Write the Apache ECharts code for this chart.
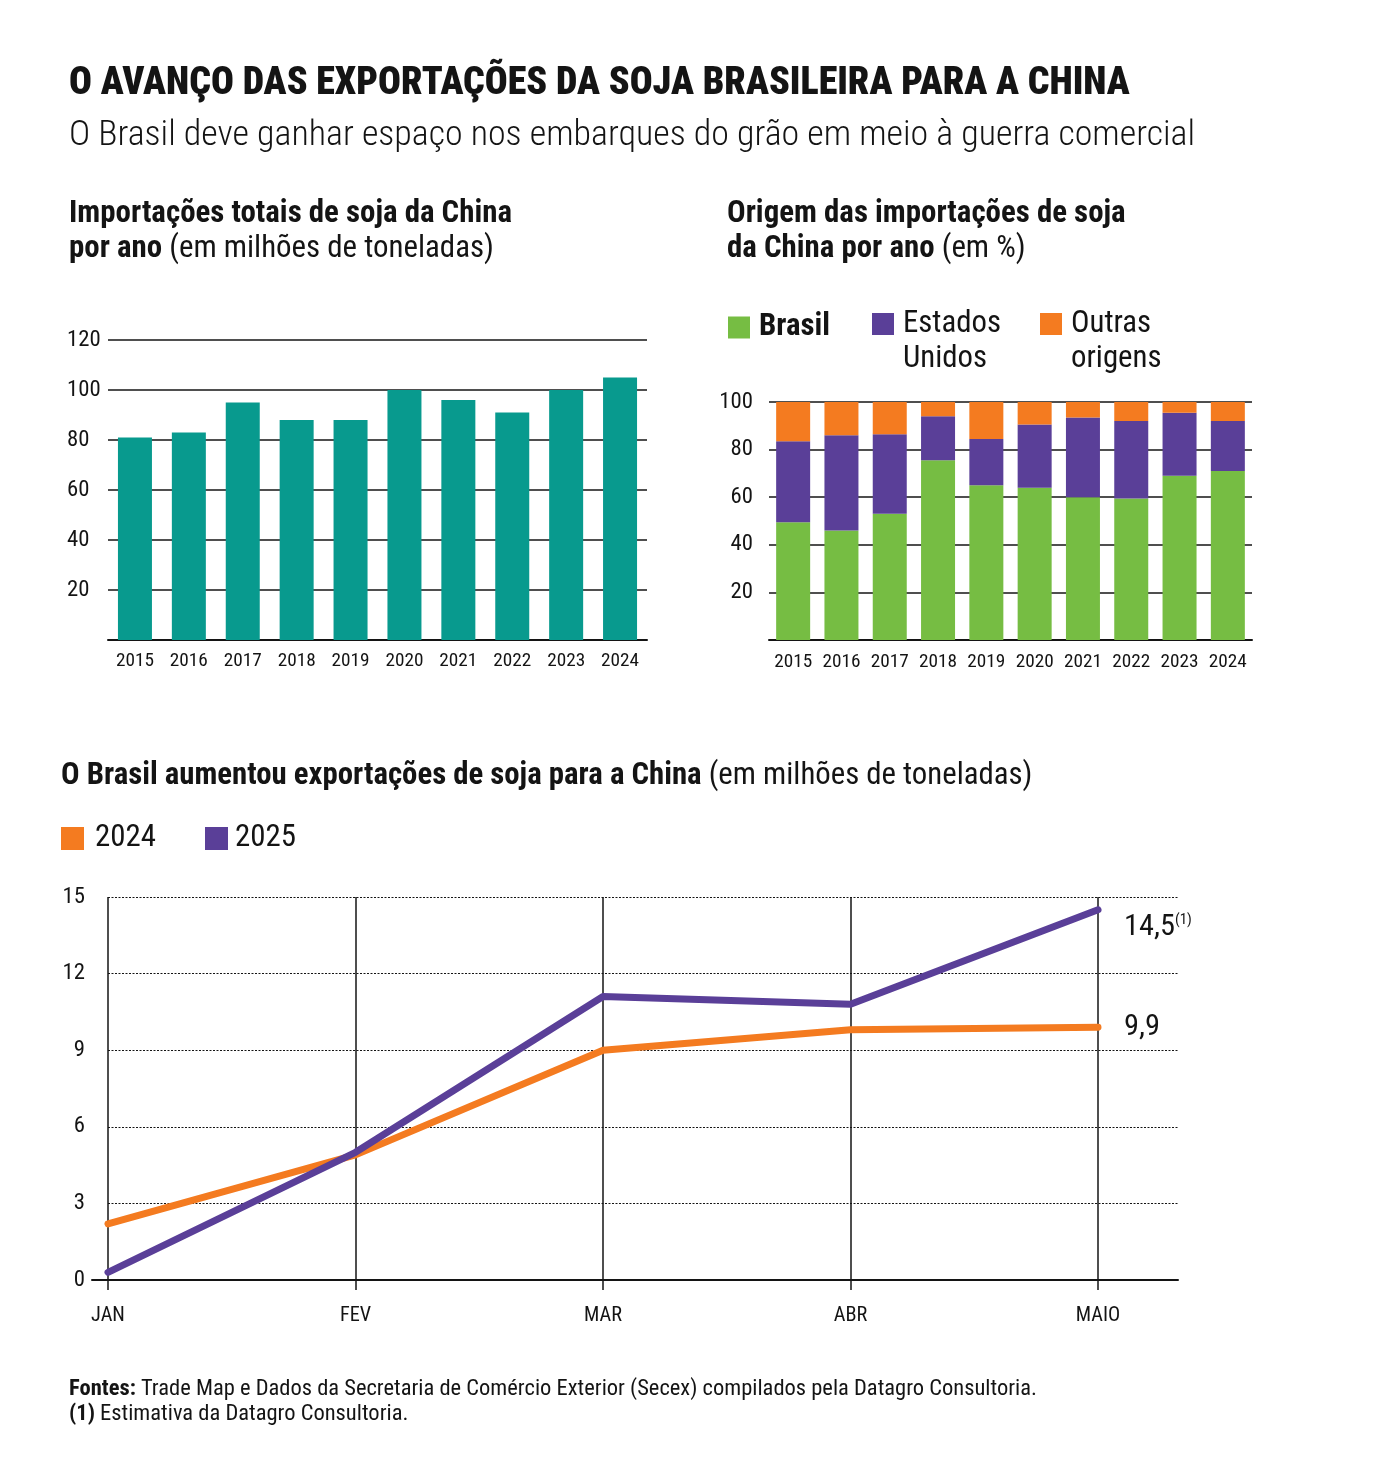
<!DOCTYPE html>
<html lang="pt-BR">
<head>
<meta charset="utf-8">
<title>O avanço das exportações da soja brasileira para a China</title>
<script src="https://cdn.jsdelivr.net/npm/echarts@6.0.0/dist/echarts.min.js"></script>
<style>
html,body{margin:0;padding:0;background:#ffffff;}
#chart{width:1380px;height:1478px;}
</style>
</head>
<body>
<div id="chart"></div>
<script>
// ---------------- DATA ----------------
const years = ['2015','2016','2017','2018','2019','2020','2021','2022','2023','2024'];
const chinaImports = [81, 83, 95, 88, 88, 100, 96, 91, 100, 105];          // milhões de t
const shareBrasil  = [49.5, 46, 53, 75.5, 65, 64, 60, 59.5, 69, 71];        // %
const shareEUA     = [34, 40, 33.5, 18.5, 19.5, 26.5, 33.5, 32.5, 26.5, 21]; // %
const shareOutras  = [16.5, 14, 13.5, 6, 15.5, 9.5, 6.5, 8, 4.5, 8];        // %
const months = ['JAN','FEV','MAR','ABR','MAIO'];
const exports2024 = [2.2, 4.9, 9.0, 9.8, 9.9];
const exports2025 = [0.3, 5.0, 11.1, 10.8, 14.5];
const importsAxis = [0, 120, 20];   // min, max, step
const sharesAxis  = [0, 100, 20];
const exportsAxis = [0, 15, 3];

// ---------------- TEXTS ----------------
const TITLE = 'O AVANÇO DAS EXPORTAÇÕES DA SOJA BRASILEIRA PARA A CHINA';
const SUBTITLE = 'O Brasil deve ganhar espaço nos embarques do grão em meio à guerra comercial';
const P1_L1 = 'Importações totais de soja da China';
const P1_L2B = 'por ano', P1_L2R = ' (em milhões de toneladas)';
const P2_L1 = 'Origem das importações de soja';
const P2_L2B = 'da China por ano', P2_L2R = ' (em %)';
const P3_B = 'O Brasil aumentou exportações de soja para a China', P3_R = ' (em milhões de toneladas)';
const F1_B = 'Fontes:', F1_R = ' Trade Map e Dados da Secretaria de Comércio Exterior (Secex) compilados pela Datagro Consultoria.';
const F2_B = '(1)', F2_R = ' Estimativa da Datagro Consultoria.';

// ---------------- FONT FITTING ----------------
const ctx = document.createElement('canvas').getContext('2d');
function tw(text, weight, size, fam) { ctx.font = weight + ' ' + size + 'px ' + fam; return ctx.measureText(text).width; }
function hasFont(f) {
  const s = 'abcdefghijklmnopqrstuvwxyz ABCDEFGHIJKLM 0123456789';
  return tw(s, 'normal', 40, "'" + f + "', monospace") !== tw(s, 'normal', 40, 'monospace') &&
         tw(s, 'normal', 40, "'" + f + "', serif") !== tw(s, 'normal', 40, 'serif');
}
const candidates = ['Roboto Condensed', 'Noto Sans Condensed', 'Liberation Sans Narrow', 'Arial Narrow'];
let found = null;
for (const c of candidates) { if (hasFont(c)) { found = c; break; } }
const FAM = found ? "'" + found + "', Roboto" : 'Roboto';
const HEAVY = '900';
const LIGHT = '300';
const BOOST = found ? 1.12 : 1.15;   // original tick face is narrower & taller
function fit(parts, target) {
  let t = 0; parts.forEach(p => { t += tw(p[0], p[1], 100, FAM); });
  return Math.round(100 * target / t * 10) / 10;
}
const sTitle = fit([[TITLE, HEAVY]], 1061);
const sSub = fit([[SUBTITLE, LIGHT]], 1126);
const sPanel = fit([[P1_L1, 'bold']], 443);
const sP3 = fit([[P3_B, 'bold'], [P3_R, 'normal']], 972);
const sFoot = fit([[F1_B, 'bold'], [F1_R, 'normal']], 968);
const sLeg2 = fit([['Estados', 'normal']], 98);
const sLeg3 = fit([['2024', 'normal']], 61);
const sAx = fit([['120', 'normal']], 30) * BOOST;
const sYear = fit([['2015', 'normal']], 34) * BOOST;
const sAx3 = fit([['12', 'normal']], 20) * BOOST;
const sMonth = fit([['MAIO', 'normal']], 37) * 1.2;
const sEnd = fit([['14,5', 'normal']], 51);

const INK = '#141414';
const TEAL = '#089A8E', GREEN = '#76BD43', PURPLE = '#5A3F98', ORANGE = '#F47B20';

function fmt(v) { return v.toFixed(1).replace('.', ','); }
function richText(x, y, text, rich) {
  return { type: 'text', x: x, y: y, style: { text: text, verticalAlign: 'middle', align: 'left', fill: INK, rich: rich } };
}
function rs(size, weight) { return { fontSize: size, fontWeight: weight, fontFamily: FAM, color: INK, fill: INK }; }

const chart = echarts.init(document.getElementById('chart'), null, { renderer: 'canvas' });

const hideZero = v => (v === 0 ? '' : String(v));

const option = {
  animation: false,
  backgroundColor: '#ffffff',
  textStyle: { fontFamily: FAM, color: INK },
  grid: [
    { left: 108, top: 340, width: 539, height: 300, outerBoundsMode: 'none' },
    { left: 769, top: 402, width: 483, height: 238, outerBoundsMode: 'none' },
    { left: 108, top: 897, width: 1070, height: 383, outerBoundsMode: 'none' },
    { left: 108, top: 897, width: 990, height: 383, outerBoundsMode: 'none' },
    { left: 92, top: 897, width: 1086, height: 383, outerBoundsMode: 'none' }
  ],
  xAxis: [
    { type: 'category', gridIndex: 0, data: years,
      axisLine: { lineStyle: { color: INK, width: 2 } }, axisTick: { show: false },
      axisLabel: { interval: 0, fontSize: sYear, color: INK, margin: 21.5 - sYear / 2 } },
    { type: 'category', gridIndex: 1, data: years,
      axisLine: { lineStyle: { color: INK, width: 2 } }, axisTick: { show: false },
      axisLabel: { interval: 0, fontSize: sYear, color: INK, margin: 22 - sYear / 2 } },
    { type: 'value', gridIndex: 2, show: false, min: 0, max: 1 },
    { type: 'category', gridIndex: 3, data: months, boundaryGap: false,
      axisLine: { show: false },
      axisTick: { show: true, alignWithLabel: true, length: 10, lineStyle: { color: INK, width: 1.5 } },
      splitLine: { show: true, lineStyle: { color: INK, width: 1.5, type: 'solid' } },
      axisLabel: { interval: 0, fontSize: sMonth, color: INK, margin: 36 - sMonth / 2 } },
    { type: 'value', gridIndex: 4, min: 0, max: 1,
      axisLine: { show: true, lineStyle: { color: INK, width: 2 } },
      axisTick: { show: false }, axisLabel: { show: false }, splitLine: { show: false } }
  ],
  yAxis: [
    { type: 'value', gridIndex: 0, min: importsAxis[0], max: importsAxis[1], interval: importsAxis[2],
      axisLine: { show: false }, axisTick: { show: false },
      splitLine: { lineStyle: { color: INK, width: 1.5 } },
      axisLabel: { align: 'left', margin: 41, fontSize: sAx, color: INK, formatter: hideZero } },
    { type: 'value', gridIndex: 1, min: sharesAxis[0], max: sharesAxis[1], interval: sharesAxis[2],
      axisLine: { show: false }, axisTick: { show: false },
      splitLine: { lineStyle: { color: INK, width: 1.5 } },
      axisLabel: { align: 'right', margin: 16, fontSize: sAx, color: INK, formatter: hideZero } },
    { type: 'value', gridIndex: 2, min: exportsAxis[0], max: exportsAxis[1], interval: exportsAxis[2],
      axisLine: { show: false }, axisTick: { show: false },
      splitLine: { lineStyle: { color: INK, width: 1, type: [2, 1.5] } },
      axisLabel: { align: 'right', margin: 23, fontSize: sAx3, color: INK } },
    { type: 'value', gridIndex: 3, min: exportsAxis[0], max: exportsAxis[1], show: false },
    { type: 'value', gridIndex: 4, min: 0, max: 1, show: false }
  ],
  legend: [
    { left: 728, top: 312, padding: 0, icon: 'rect', itemWidth: 22, itemHeight: 22, selectedMode: false,
      data: [{ name: 'Brasil', textStyle: { fontWeight: 'bold' } }],
      textStyle: { fontSize: sLeg2, color: INK, lineHeight: 22, padding: [0, 0, 0, 4] } },
    { left: 872, top: 306.5, padding: 0, icon: 'path://M0,0H22V22H0Z M0,57L0.01,57Z', itemWidth: 22, itemHeight: 57, selectedMode: false,
      data: ['Estados\nUnidos'],
      textStyle: { fontSize: sLeg2, color: INK, lineHeight: 35, padding: [0, 0, 0, 4] } },
    { left: 1040, top: 306.5, padding: 0, icon: 'path://M0,0H22V22H0Z M0,57L0.01,57Z', itemWidth: 22, itemHeight: 57, selectedMode: false,
      data: ['Outras\norigens'],
      textStyle: { fontSize: sLeg2, color: INK, lineHeight: 35, padding: [0, 0, 0, 4] } },
    { left: 61, top: 823, padding: 0, icon: 'rect', itemWidth: 23, itemHeight: 23, selectedMode: false,
      data: ['2024'], textStyle: { fontSize: sLeg3, color: INK, lineHeight: 23, padding: [0, 0, 0, 6] } },
    { left: 205, top: 823, padding: 0, icon: 'rect', itemWidth: 23, itemHeight: 23, selectedMode: false,
      data: ['2025'], textStyle: { fontSize: sLeg3, color: INK, lineHeight: 23, padding: [0, 0, 0, 2] } }
  ],
  series: [
    { name: 'Importações', type: 'bar', xAxisIndex: 0, yAxisIndex: 0, data: chinaImports,
      barWidth: 34, itemStyle: { color: TEAL } },
    { name: 'Brasil', type: 'bar', stack: 'origem', xAxisIndex: 1, yAxisIndex: 1, data: shareBrasil,
      barWidth: 34, itemStyle: { color: GREEN } },
    { name: 'Estados\nUnidos', type: 'bar', stack: 'origem', xAxisIndex: 1, yAxisIndex: 1, data: shareEUA,
      barWidth: 34, itemStyle: { color: PURPLE } },
    { name: 'Outras\norigens', type: 'bar', stack: 'origem', xAxisIndex: 1, yAxisIndex: 1, data: shareOutras,
      barWidth: 34, itemStyle: { color: ORANGE } },
    { name: '2024', type: 'line', xAxisIndex: 3, yAxisIndex: 3, data: exports2024, symbol: 'none',
      itemStyle: { color: ORANGE },
      lineStyle: { color: ORANGE, width: 7, cap: 'round', join: 'round' },
      endLabel: { show: true, offset: [18, 0], color: INK, fontSize: sEnd, formatter: p => fmt(p.value) } },
    { name: '2025', type: 'line', xAxisIndex: 3, yAxisIndex: 3, data: exports2025, symbol: 'none',
      itemStyle: { color: PURPLE },
      lineStyle: { color: PURPLE, width: 7, cap: 'round', join: 'round' },
      endLabel: { show: true, offset: [18, 18], color: INK,
        formatter: p => '{v|' + fmt(p.value) + '}{s|(1)}',
        rich: { v: { fontSize: sEnd, color: INK }, s: { fontSize: Math.round(sEnd * 0.5), color: INK, verticalAlign: 'top' } } } }
  ],
  graphic: { elements: [
    richText(69, 84, '{t|' + TITLE + '}', { t: rs(sTitle, HEAVY) }),
    richText(69, 136, '{t|' + SUBTITLE + '}', { t: rs(sSub, LIGHT) }),
    richText(69, 214, '{b|' + P1_L1 + '}', { b: rs(sPanel, 'bold') }),
    richText(69, 249, '{b|' + P1_L2B + '}{r|' + P1_L2R + '}', { b: rs(sPanel, 'bold'), r: rs(sPanel, 'normal') }),
    richText(727, 214, '{b|' + P2_L1 + '}', { b: rs(sPanel, 'bold') }),
    richText(727, 249, '{b|' + P2_L2B + '}{r|' + P2_L2R + '}', { b: rs(sPanel, 'bold'), r: rs(sPanel, 'normal') }),
    richText(61, 776, '{b|' + P3_B + '}{r|' + P3_R + '}', { b: rs(sP3, 'bold'), r: rs(sP3, 'normal') }),
    richText(69, 1389, '{b|' + F1_B + '}{r|' + F1_R + '}', { b: rs(sFoot, 'bold'), r: rs(sFoot, 'normal') }),
    richText(69, 1414, '{b|' + F2_B + '}{r|' + F2_R + '}', { b: rs(sFoot, 'bold'), r: rs(sFoot, 'normal') })
  ] }
};

chart.setOption(option);
</script>
</body>
</html>
